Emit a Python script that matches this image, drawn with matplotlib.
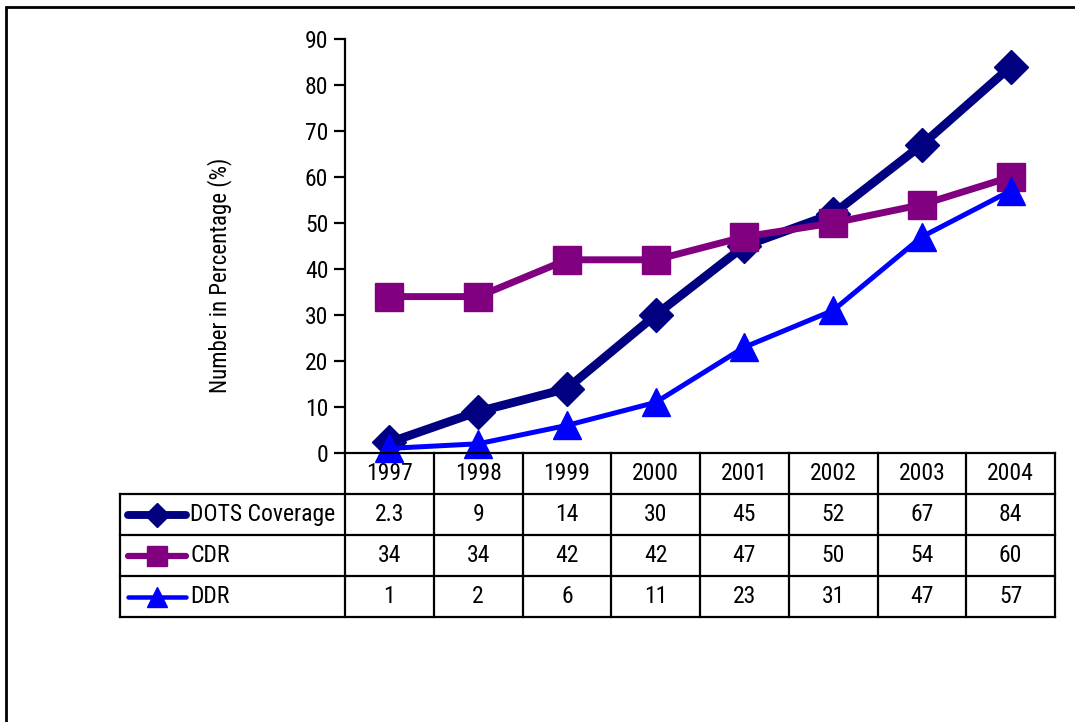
import matplotlib.pyplot as plt
from matplotlib.patches import Rectangle
from matplotlib import font_manager

years = ["1997", "1998", "1999", "2000", "2001", "2002", "2003", "2004"]
dots = [2.3, 9, 14, 30, 45, 52, 67, 84]
cdr = [34, 34, 42, 42, 47, 50, 54, 60]
ddr = [1, 2, 6, 11, 23, 31, 47, 57]
series_names = ["DOTS Coverage", "CDR", "DDR"]
yticks = list(range(0, 91, 10))

names = {f.name for f in font_manager.fontManager.ttflist}
fam = next((n for n in ["Roboto Condensed", "Archivo Narrow", "PT Sans Narrow", "Liberation Sans"]
            if n in names), "DejaVu Sans")
plt.rcParams["font.family"] = [fam, "DejaVu Sans"]

W, H = 1075, 722
fig = plt.figure(figsize=(W / 100, H / 100), dpi=100)

# outer frame (runs off the right and bottom edges)
fig.patches.append(Rectangle((6 / W, -0.1), 2, 1 - 7 / H + 0.1, transform=fig.transFigure,
                             fill=False, lw=2, ec="black"))

styles = [
    dict(color="#000080", lw=6.3, marker="D", ms=17),
    dict(color="#800080", lw=5.0, marker="s", ms=19.5),
    dict(color="#0000FF", lw=3.6, marker="^", ms=20),
]
data = [dots, cdr, ddr]

# chart area
ax = fig.add_axes([345 / W, 1 - 453 / H, 710 / W, 414 / H])
x = list(range(len(years)))
for vals, st, z in zip(data, styles, [3, 4, 5]):
    ax.plot(x, vals, color=st["color"], lw=st["lw"], marker=st["marker"], ms=st["ms"],
            zorder=z, clip_on=False)
ax.set_xlim(-0.5, len(years) - 0.5)
ax.set_ylim(0, 90)
ax.set_yticks(yticks)
ax.set_xticks([])
for s in ["top", "right", "bottom"]:
    ax.spines[s].set_visible(False)
ax.spines["left"].set_linewidth(1.6)
ax.tick_params(axis="y", direction="out", length=8, width=1.6, labelsize=17, pad=4)
ax.patch.set_visible(False)

fig.text(220 / W, 1 - 275 / H, "Number in Percentage (%)", rotation=90,
         ha="center", va="center", fontsize=16.5)

# data table below the chart
label_w = 225 / 88.75
tx = fig.add_axes([120 / W, 1 - 617 / H, 935 / W, 164 / H])
x0 = -0.5 - label_w
x1 = len(years) - 0.5
tx.set_xlim(x0, x1)
tx.set_ylim(4, 0)
tx.axis("off")
lw_t = 1.6
# horizontal rules
tx.plot([-0.5, x1], [0, 0], color="black", lw=lw_t, clip_on=False, solid_capstyle="projecting")
for r in [1, 2, 3, 4]:
    tx.plot([x0, x1], [r, r], color="black", lw=lw_t, clip_on=False, solid_capstyle="projecting")
# vertical rules
tx.plot([x0, x0], [1, 4], color="black", lw=lw_t, clip_on=False)
for i in range(len(years) + 1):
    tx.plot([i - 0.5, i - 0.5], [0, 4], color="black", lw=lw_t, clip_on=False)

for i, yr in enumerate(years):
    tx.text(i, 0.5, yr, ha="center", va="center", fontsize=17)
for r, (vals, name, st) in enumerate(zip(data, series_names, styles), start=1):
    for i, v in enumerate(vals):
        tx.text(i, r + 0.5, f"{v:g}", ha="center", va="center", fontsize=17)
    kx0 = x0 + 8 / 88.75
    kx1 = x0 + 66 / 88.75
    tx.plot([kx0, kx1], [r + 0.5, r + 0.5], color=st["color"], lw=st["lw"] * 0.9,
            solid_capstyle="round", clip_on=False)
    tx.plot([(kx0 + kx1) / 2], [r + 0.5], color=st["color"], marker=st["marker"],
            ms=st["ms"] * 0.72, clip_on=False)
    tx.text(x0 + 70 / 88.75, r + 0.5, name, ha="left", va="center", fontsize=17)

fig.savefig("out.png", dpi=100)
